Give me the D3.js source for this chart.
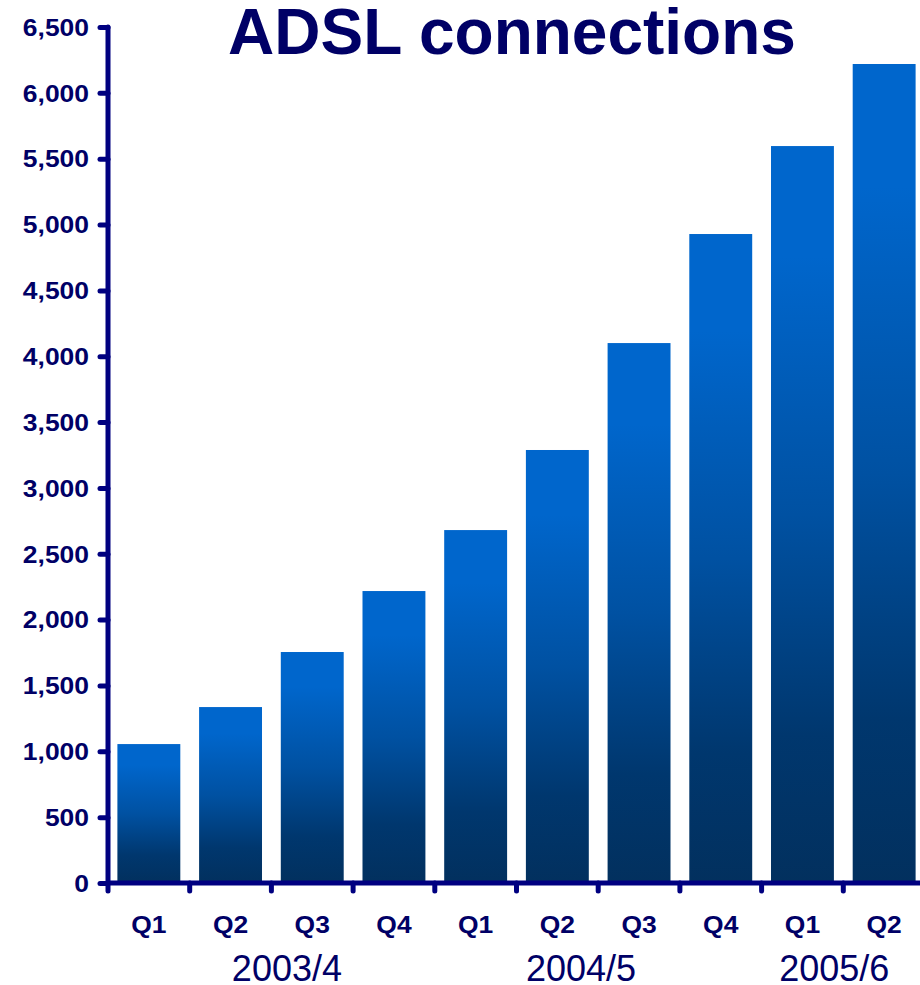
<!DOCTYPE html>
<html>
<head>
<meta charset="utf-8">
<script src="https://cdn.jsdelivr.net/npm/d3@7"></script>
<style>
  html, body { margin: 0; padding: 0; background: #ffffff; }
  svg { display: block; }
</style>
</head>
<body>
<div id="chart"></div>
<script>
// ---- Data ----
const title = "ADSL connections";
const quarters = ["Q1", "Q2", "Q3", "Q4", "Q1", "Q2", "Q3", "Q4", "Q1", "Q2"];
const values = [1055, 1336, 1754, 2217, 2680, 3288, 4100, 4928, 5596, 6219];
const yTicks = [0, 500, 1000, 1500, 2000, 2500, 3000, 3500, 4000, 4500, 5000, 5500, 6000, 6500];
const years = ["2003/4", "2004/5", "2005/6"];
const yearBandPos = [2.19, 5.79, 8.89]; // position in band steps

// ---- Layout ----
const W = 920, H = 985;
const x0 = 108, y0 = 883, yTop = 27;
const navy = "#000080";
const textNavy = "#000066";

const svg = d3.select("#chart").append("svg")
  .attr("width", W).attr("height", H)
  .attr("font-family", "'Liberation Sans', Arial, sans-serif");

const defs = svg.append("defs");
const grad = defs.append("linearGradient")
  .attr("id", "barGrad").attr("x1", 0).attr("y1", 0).attr("x2", 0).attr("y2", 1);
[[0, "#0066CC"], [0.15, "#0066CC"], [0.5, "#0051A2"], [0.8, "#00376E"], [1, "#02305E"]]
  .forEach(([o, c]) => grad.append("stop").attr("offset", o).attr("stop-color", c));

const x = d3.scaleBand()
  .domain(d3.range(quarters.length))
  .range([x0, 925])
  .paddingInner(0.23)
  .paddingOuter(0.115);

const y = d3.scaleLinear().domain([0, 6500]).range([y0, yTop]);

// Title
svg.append("text")
  .attr("x", 512).attr("y", 54)
  .attr("text-anchor", "middle")
  .attr("font-size", 64).attr("font-weight", "bold")
  .attr("fill", textNavy)
  .text(title);

// Bars
svg.append("g").selectAll("rect")
  .data(values)
  .join("rect")
  .attr("x", (d, i) => x(i))
  .attr("y", d => y(d))
  .attr("width", x.bandwidth())
  .attr("height", d => y(0) - y(d))
  .attr("fill", "url(#barGrad)");

// Y axis
const yAxis = d3.axisLeft(y).tickValues(yTicks).tickSize(8).tickPadding(11)
  .tickFormat(d3.format(","));
const gy = svg.append("g").attr("transform", `translate(${x0},0)`).call(yAxis);
gy.select(".domain").remove();
gy.selectAll(".tick line").attr("stroke", navy).attr("stroke-width", 5).attr("stroke-linecap", "round");
gy.selectAll(".tick text")
  .attr("fill", textNavy).attr("font-size", 23).attr("font-weight", "bold")
  .attr("font-family", "'Liberation Sans', Arial, sans-serif")
  .attr("dy", "0.36em")
  .attr("transform", function() {
    const xx = +d3.select(this).attr("x");
    return `translate(${xx},0) scale(1.15,1) translate(${-xx},0)`;
  });
gy.append("line")
  .attr("x1", 0).attr("x2", 0).attr("y1", yTop).attr("y2", y0)
  .attr("stroke", navy).attr("stroke-width", 5).attr("stroke-linecap", "round");

// X axis
const gx = svg.append("g");
const boundaries = d3.range(quarters.length).map(i => x(i) - x.step() * x.paddingInner() / 2);
boundaries[0] = x0;
gx.selectAll("line.tick")
  .data(boundaries)
  .join("line")
  .attr("class", "tick")
  .attr("x1", d => d).attr("x2", d => d)
  .attr("y1", y0).attr("y2", y0 + 8)
  .attr("stroke", navy).attr("stroke-width", 5).attr("stroke-linecap", "round");
gx.append("line")
  .attr("x1", x0).attr("x2", W + 5).attr("y1", y0).attr("y2", y0)
  .attr("stroke", navy).attr("stroke-width", 5).attr("stroke-linecap", "round");

// Quarter labels
gx.selectAll("text.q")
  .data(quarters)
  .join("text")
  .attr("class", "q")
  .attr("transform", (d, i) => `translate(${x(i) + x.bandwidth() / 2},933) scale(1.15,1)`)
  .attr("text-anchor", "middle")
  .attr("font-size", 23).attr("font-weight", "bold")
  .attr("fill", textNavy)
  .text(d => d);

// Year labels
gx.selectAll("text.yr")
  .data(years)
  .join("text")
  .attr("class", "yr")
  .attr("x", (d, i) => x0 + yearBandPos[i] * x.step())
  .attr("y", 981)
  .attr("text-anchor", "middle")
  .attr("font-size", 36)
  .attr("fill", textNavy)
  .text(d => d);
</script>
</body>
</html>
